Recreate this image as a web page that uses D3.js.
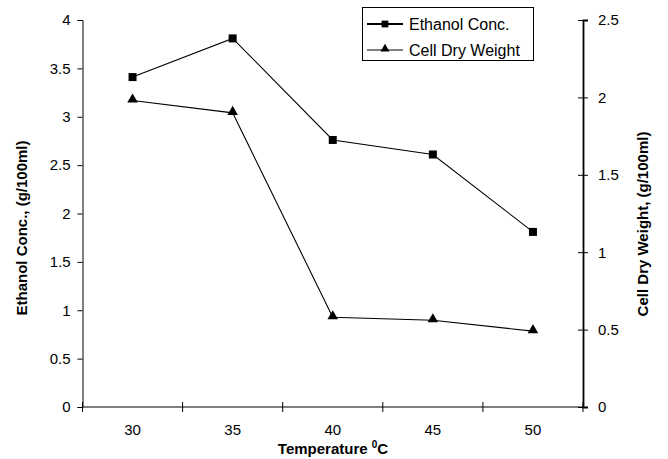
<!DOCTYPE html>
<html>
<head>
<meta charset="utf-8">
<script src="https://cdn.jsdelivr.net/npm/d3@7"></script>
<style>
body { margin: 0; background: #fff; }
text { font-family: "Liberation Sans", Arial, sans-serif; fill: #000; }
</style>
</head>
<body>
<div id="container"></div>
<script>
var w = 668
var h = 459

// data
var temps = ["30", "35", "40", "45", "50"]
var ethanol = [3.41, 3.81, 2.76, 2.61, 1.81]
var cellDry = [1.98, 1.90, 0.58, 0.56, 0.49]
var leftTicks = [0, 0.5, 1, 1.5, 2, 2.5, 3, 3.5, 4]
var rightTicks = [0, 0.5, 1, 1.5, 2, 2.5]

var svg = d3.select("#container").append("svg")
    .attr("width", w)
    .attr("height", h)

var x0 = 82.5, x1 = 583, yTop = 20, yBot = 407

var x = d3.scaleBand().domain(temps).range([x0, x1])
var yL = d3.scaleLinear().domain([0, 4]).range([yBot, yTop])
var yR = d3.scaleLinear().domain([0, 2.5]).range([yBot, yTop])

// left axis
var gl = svg.append("g").attr("transform", "translate(" + x0 + ",0)")
gl.call(d3.axisLeft(yL).tickValues(leftTicks).tickSize(5).tickPadding(7)
    .tickFormat(d3.format("")))
gl.selectAll("text").style("font-size", "15px")

// right axis
var gr = svg.append("g").attr("transform", "translate(" + x1 + ",0)")
gr.call(d3.axisRight(yR).tickValues(rightTicks).tickSize(5).tickPadding(10)
    .tickFormat(d3.format("")))
gr.select(".domain").attr("stroke-width", 1.8)
gr.selectAll(".tick line").attr("x1", -5)
gr.selectAll("text").style("font-size", "15px")

// bottom axis, ticks at band boundaries
var gb = svg.append("g").attr("transform", "translate(0," + yBot + ")")
gb.append("line").attr("x1", x0).attr("x2", x1).attr("stroke", "#000")
var bounds = temps.map(function (t) { return x(t) }).concat([x1])
gb.selectAll(".bt").data(bounds).enter().append("line")
    .attr("x1", d => d).attr("x2", d => d)
    .attr("y1", -5).attr("y2", 5)
    .attr("stroke", "#000")
gb.selectAll(".lbl").data(temps).enter().append("text")
    .attr("x", d => x(d) + x.bandwidth() / 2)
    .attr("y", 28)
    .attr("text-anchor", "middle")
    .style("font-size", "15px")
    .text(d => d)

// axis titles
var xt = svg.append("text")
    .attr("x", 333).attr("y", 454)
    .attr("text-anchor", "middle")
    .style("font-size", "15px").style("font-weight", "bold")
xt.append("tspan").text("Temperature  ")
xt.append("tspan").attr("dy", -6).style("font-size", "10px").text("0")
xt.append("tspan").attr("dy", 6).text("C")

svg.append("text")
    .attr("transform", "translate(27,228) rotate(-90)")
    .attr("text-anchor", "middle")
    .style("font-size", "15px").style("font-weight", "bold")
    .text("Ethanol Conc.,  (g/100ml)")

svg.append("text")
    .attr("transform", "translate(648,224) rotate(-90)")
    .attr("text-anchor", "middle")
    .style("font-size", "15px").style("font-weight", "bold")
    .text("Cell Dry Weight,  (g/100ml)")

// lines
var cx = d => x(d) + x.bandwidth() / 2
var lineE = d3.line().x((d, i) => cx(temps[i])).y(d => yL(d))
var lineC = d3.line().x((d, i) => cx(temps[i])).y(d => yR(d))

svg.append("path").attr("d", lineE(ethanol))
    .attr("fill", "none").attr("stroke", "#000").attr("stroke-width", 1.1)
svg.append("path").attr("d", lineC(cellDry))
    .attr("fill", "none").attr("stroke", "#000").attr("stroke-width", 1.1)

var sq = d3.symbol().type(d3.symbolSquare).size(64)
var tri = d3.symbol().type(d3.symbolTriangle).size(48)

svg.selectAll(".sq").data(ethanol).enter().append("path")
    .attr("d", sq)
    .attr("transform", (d, i) => "translate(" + cx(temps[i]) + "," + yL(d) + ")")
svg.selectAll(".tri").data(cellDry).enter().append("path")
    .attr("d", tri)
    .attr("transform", (d, i) => "translate(" + cx(temps[i]) + "," + (yR(d) - 1) + ")")

// legend
var lg = svg.append("g")
lg.append("rect").attr("x", 362.5).attr("y", 7.5).attr("width", 171).attr("height", 53)
    .attr("fill", "#fff").attr("stroke", "#000")
var items = [["Ethanol Conc.", sq], ["Cell Dry Weight", tri]]
items.forEach(function (it, i) {
    var yy = 24 + i * 26
    lg.append("line").attr("x1", 367).attr("x2", 403).attr("y1", yy).attr("y2", yy)
        .attr("stroke", "#000").attr("stroke-width", i ? 1.1 : 1.8)
    lg.append("path").attr("d", it[1]).attr("transform", "translate(385," + (yy - (i ? 1 : 0)) + ") scale(0.85)")
    lg.append("text").attr("x", 409).attr("y", yy + 6)
        .style("font-size", "16px").text(it[0])
})
</script>
</body>
</html>
